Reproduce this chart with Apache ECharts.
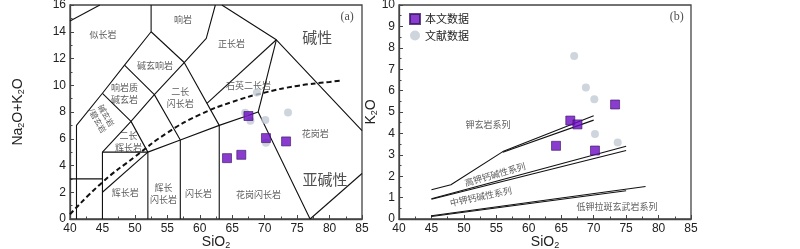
<!DOCTYPE html>
<html>
<head>
<meta charset="utf-8">
<script src="https://cdn.jsdelivr.net/npm/echarts@6/dist/echarts.min.js"></script>
<style>
  html, body { margin: 0; padding: 0; background: #fff; }
  #main { width: 800px; height: 249px; }
</style>
</head>
<body>
<div id="main"></div>
<script>
// ---- data (a) TAS ----
const tasBoundaries = [
  [[41, 0], [41, 7], [45, 9.4], [48.4, 11.5], [52.5, 14], [52.5, 16]],
  [[40, 3], [45, 3]],
  [[45, 0], [45, 5], [52, 5], [52, 0]],
  [[45, 2], [52, 5]],
  [[45, 5], [49.4, 7.3], [52, 5]],
  [[45, 9.4], [49.4, 7.3], [53, 9.3], [57, 5.9]],
  [[48.4, 11.5], [53, 9.3], [57.6, 11.7]],
  [[52, 5], [57, 5.9], [63, 7], [69, 8], [77, 0]],
  [[57, 0], [57, 5.9]],
  [[63, 0], [63, 7]],
  [[52.5, 14], [57.6, 11.7], [63, 7]],
  [[57.6, 11.7], [61, 13.5], [62.4, 16]],
  [[63.4, 16], [71.8, 13.4], [85, 6.6]],
  [[71.8, 13.4], [61.1, 8.65]],
  [[69, 8], [71.8, 13.4]],
  [[77, 0], [85, 3.4]],
  [[40, 14.8], [44.6, 16]]
];
const alkalineDivide = [[40, 0.35], [45, 2.75], [50, 4.65], [55, 6.45], [60, 7.8], [65, 8.75], [70, 9.45], [75, 9.95], [80, 10.25], [82, 10.35]];

const tasLabels = [
  ['似长岩', 45.1, 13.76], ['响岩', 57.4, 14.9], ['碱玄响岩', 53.1, 11.5],
  ['响岩质\n碱玄岩', 48.4, 9.35], ['二长\n闪长岩', 57.0, 9.08], ['正长岩', 64.9, 13.1],
  ['石英二长岩', 67.5, 10.0], ['二长\n辉长岩', 49.0, 5.78], ['辉长岩', 48.5, 1.97],
  ['辉长\n闪长岩', 54.4, 1.87], ['闪长岩', 59.8, 1.92], ['花岗闪长岩', 69.05, 1.79],
  ['花岗岩', 77.8, 6.36]
];
const tasRotLabel = ['碱玄岩\n/碧玄岩', 44.9, 7.55];
const tasBigLabels = [['碱性', 78.1, 13.6], ['亚碱性', 79.3, 2.97]];

// this study / literature
const sampleSiO2 = [64.2, 66.4, 67.5, 70.2, 73.3];
const sampleAlk = [4.55, 4.8, 7.7, 6.05, 5.8];
const sampleK2O = [3.42, 4.6, 4.42, 3.2, 5.35];
const litSiO2A = [67.0, 67.8, 68.8, 70.1, 70.2, 73.6];
const litAlk = [7.95, 7.35, 9.45, 7.4, 5.7, 7.97];
const litSiO2B = [67.0, 68.8, 70.1, 70.2, 73.7];
const litK2O = [7.62, 6.14, 5.6, 3.97, 3.57];

// ---- data (b) K2O-SiO2 ----
const seriesBoundaries = [
  [[45, 1.37], [48, 1.6], [56, 3.15], [70, 4.82]],
  [[56, 3.12], [70, 4.62]],
  [[45, 0.95], [75, 3.4]],
  [[45, 0.92], [75, 3.2]],
  [[45, 0.15], [78, 1.52]],
  [[45, 0.12], [75, 1.32]]
];
const seriesLabels = [
  ['钾玄岩系列', 53.7, 4.4, 0], ['高钾钙碱性系列', 54.8, 2.08, 16],
  ['中钾钙碱性系列', 52.6, 1.05, 12], ['低钾拉斑玄武岩系列', 73.6, 0.57, 0]
];

const FONT = 'Liberation Sans, Arial, sans-serif';
const CJK = 'Noto Sans CJK SC, sans-serif';

function zip(xs, ys) { return xs.map((x, i) => [x, ys[i]]); }

const nameRich = {
  n: { fontSize: 14, fontFamily: FONT, color: '#222' },
  s: { fontSize: 9, fontFamily: FONT, color: '#222', padding: [7, 0, 0, 0] }
};
function axisX(idx, name) {
  return {
    type: 'value', gridIndex: idx, min: 40, max: 85, interval: 5,
    name: name, nameLocation: 'middle', nameGap: 15, nameMoveOverlap: false,
    nameTextStyle: { color: '#222', fontFamily: FONT, rich: nameRich },
    axisLine: { lineStyle: { color: '#444', width: 1.3 } },
    axisTick: { inside: true, length: 4, lineStyle: { color: '#444' } },
    minorTick: { show: true, splitNumber: 2, length: 2.5, lineStyle: { color: '#444' } },
    axisLabel: { color: '#222', fontSize: 12, fontFamily: FONT, margin: 4 },
    splitLine: { show: false }
  };
}
function axisY(idx, max, interval, name, gap) {
  return {
    type: 'value', gridIndex: idx, min: 0, max: max, interval: interval,
    name: name, nameLocation: 'middle', nameGap: gap, nameRotate: 90, nameMoveOverlap: false,
    nameTextStyle: { color: '#222', fontFamily: FONT, rich: nameRich },
    axisLine: { lineStyle: { color: '#444', width: 1.3 } },
    axisTick: { inside: true, length: 4, lineStyle: { color: '#444' } },
    minorTick: { show: true, splitNumber: 2, length: 2.5, lineStyle: { color: '#444' } },
    axisLabel: { color: '#222', fontSize: 12, fontFamily: FONT, margin: 4 },
    splitLine: { show: false }
  };
}

const series = [];
tasBoundaries.forEach(function (pts) {
  series.push({ type: 'line', xAxisIndex: 0, yAxisIndex: 0, data: pts, symbol: 'none',
    lineStyle: { color: '#111', width: 1.1 }, silent: true, z: 2 });
});
series.push({ type: 'line', xAxisIndex: 0, yAxisIndex: 0, data: alkalineDivide, symbol: 'none', smooth: true,
  lineStyle: { color: '#111', width: 2, type: [5, 3] }, silent: true, z: 2 });
seriesBoundaries.forEach(function (pts) {
  series.push({ type: 'line', xAxisIndex: 1, yAxisIndex: 1, data: pts, symbol: 'none',
    lineStyle: { color: '#111', width: 1.1 }, silent: true, z: 2 });
});

// labels as invisible scatter points
const smallLab = { show: true, position: 'inside', fontSize: 9, color: '#333', fontFamily: CJK, lineHeight: 12 };
series.push({
  type: 'scatter', xAxisIndex: 0, yAxisIndex: 0, symbolSize: 0, silent: true, z: 3,
  label: smallLab,
  data: tasLabels.map(l => ({ value: [l[1], l[2]], label: { formatter: l[0] } }))
    .concat([{ value: [tasRotLabel[1], tasRotLabel[2]], label: { formatter: tasRotLabel[0], rotate: -60, fontSize: 8, lineHeight: 10 } }])
    .concat(tasBigLabels.map(l => ({ value: [l[1], l[2]], label: { formatter: l[0], fontSize: 15, color: '#222' } })))
    .concat([{ value: [82.7, 15.1], label: { formatter: '(a)', fontSize: 12, color: '#222', fontFamily: 'Liberation Serif, serif' } }])
});
series.push({
  type: 'scatter', xAxisIndex: 1, yAxisIndex: 1, symbolSize: 0, silent: true, z: 3,
  label: smallLab,
  data: seriesLabels.map(l => ({ value: [l[1], l[2]], label: { formatter: l[0], rotate: l[3] } }))
    .concat([{ value: [82.8, 9.45], label: { formatter: '(b)', fontSize: 12, color: '#222', fontFamily: 'Liberation Serif, serif' } }])
});

const litStyle = { color: '#c2cbd5' };
const sampleStyle = { color: '#6c0bc2', borderColor: '#3a1666', borderWidth: 0.8 };
series.push({ name: '文献数据', type: 'scatter', xAxisIndex: 0, yAxisIndex: 0, symbol: 'circle', symbolSize: 8,
  itemStyle: litStyle, data: zip(litSiO2A, litAlk), z: 4 });
series.push({ name: '文献数据', type: 'scatter', xAxisIndex: 1, yAxisIndex: 1, symbol: 'circle', symbolSize: 8,
  itemStyle: litStyle, data: zip(litSiO2B, litK2O), z: 4 });
series.push({ name: '本文数据', type: 'scatter', xAxisIndex: 0, yAxisIndex: 0, symbol: 'rect', symbolSize: 9,
  itemStyle: sampleStyle, data: zip(sampleSiO2, sampleAlk), z: 5 });
series.push({ name: '本文数据', type: 'scatter', xAxisIndex: 1, yAxisIndex: 1, symbol: 'rect', symbolSize: 9,
  itemStyle: sampleStyle, data: zip(sampleSiO2, sampleK2O), z: 5 });

const chart = echarts.init(document.getElementById('main'), null, { renderer: 'canvas' });
chart.setOption({
  animation: false,
  backgroundColor: '#fff',
  grid: [
    { left: 70, top: 5, width: 292, height: 214, show: true, borderColor: '#444', borderWidth: 1.3, outerBoundsMode: 'none', containLabel: false },
    { left: 399, top: 5, width: 292, height: 214, show: true, borderColor: '#444', borderWidth: 1.3, outerBoundsMode: 'none', containLabel: false }
  ],
  legend: {
    data: ['本文数据', '文献数据'], orient: 'vertical', left: 404, top: 8,
    itemWidth: 10, itemHeight: 10, itemGap: 5,
    textStyle: { fontSize: 11, color: '#222', fontFamily: CJK }
  },
  xAxis: [
    axisX(0, '{n|SiO}{s|2}'),
    axisX(1, '{n|SiO}{s|2}')
  ],
  yAxis: [
    axisY(0, 16, 2, '{n|Na}{s|2}{n|O+K}{s|2}{n|O}', 44),
    axisY(1, 10, 1, '{n|K}{s|2}{n|O}', 20)
  ],
  series: series
});
</script>
</body>
</html>
